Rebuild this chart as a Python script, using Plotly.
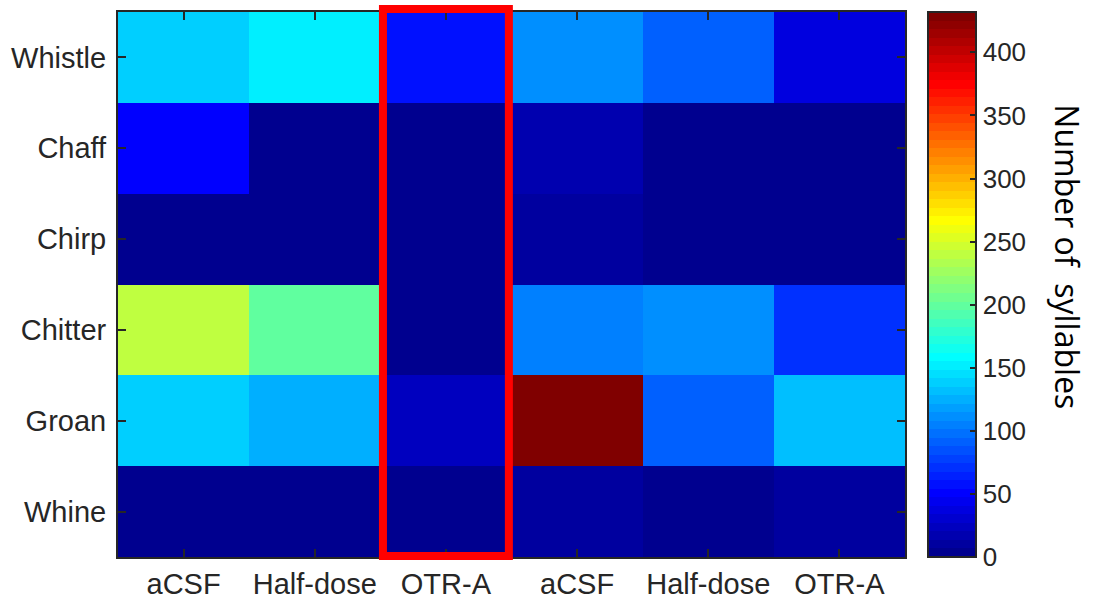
import numpy as np
import plotly.graph_objects as go

# Treatment groups (two cohorts of three) and syllable types
groups = ["aCSF", "Half-dose", "OTR-A", "aCSF", "Half-dose", "OTR-A"]
syllables = ["Whistle", "Chaff", "Chirp", "Chitter", "Groan", "Whine"]

# Number of syllables per type, one value per group column
whistle = [138, 152, 57, 111, 91, 37]
chaff = [51, 3, 3, 17, 3, 2]
chirp = [3, 2, 2, 10, 2, 2]
chitter = [240, 199, 3, 105, 111, 71]
groan = [138, 125, 24, 432, 91, 132]
whine = [3, 3, 2, 10, 3, 9]

cbar_ticks = [0, 50, 100, 150, 200, 250, 300, 350, 400]
cmin, cmax = 0, 432


def jet(m=64):
    """MATLAB-style jet colormap with m levels."""
    n = int(np.ceil(m / 4))
    u = np.concatenate([np.arange(1, n + 1) / n, np.ones(n - 1), np.arange(n, 0, -1) / n])
    g = int(np.ceil(n / 2)) - (1 if m % 4 == 1 else 0) + np.arange(1, len(u) + 1)
    r = g + n
    b = g - n
    J = np.zeros((m, 3))
    for idx, val in zip(g, u):
        if 1 <= idx <= m:
            J[idx - 1, 1] = val
    for idx, val in zip(r, u):
        if 1 <= idx <= m:
            J[idx - 1, 0] = val
    for idx, val in zip(b, u):
        if 1 <= idx <= m:
            J[idx - 1, 2] = val
    return J


# Banded colorscale (64 discrete levels)
J = jet(64)
colorscale = []
for i, (r, g, b) in enumerate(J):
    col = f"rgb({int(round(r * 255))},{int(round(g * 255))},{int(round(b * 255))})"
    colorscale.append([i / 64, col])
    colorscale.append([(i + 1) / 64, col])

z = [whistle, chaff, chirp, chitter, groan, whine]

fig = go.Figure()
fig.add_trace(go.Heatmap(
    z=z,
    x=list(range(len(groups))),
    y=list(range(len(syllables))),
    zmin=cmin, zmax=cmax,
    colorscale=colorscale,
    xgap=0, ygap=0,
    colorbar=dict(
        thickness=48,
        thicknessmode="pixels",
        len=1.0,
        lenmode="fraction",
        x=1.0295, xanchor="left", xpad=0,
        y=0.5, yanchor="middle", ypad=0,
        outlinewidth=2, outlinecolor="#262626",
        tickvals=cbar_ticks,
        ticktext=[str(t) for t in cbar_ticks],
        ticks="inside", ticklen=7, tickwidth=2, tickcolor="#262626",
        tickfont=dict(family="Liberation Sans, Arial, sans-serif", size=26, color="#262626"),
    ),
    hoverongaps=False,
))

axis_common = dict(
    showline=True, linewidth=2, linecolor="#262626",
    mirror="ticks", ticks="inside", ticklen=8, tickwidth=2, tickcolor="#262626",
    showgrid=False, zeroline=False, automargin=False,
    tickfont=dict(family="Liberation Sans, Arial, sans-serif", size=29, color="#262626"),
)

fig.update_xaxes(
    tickvals=list(range(len(groups))), ticktext=groups,
    range=[-0.5, len(groups) - 0.5], ticklabelstandoff=0, **axis_common,
)
fig.update_yaxes(
    tickvals=list(range(len(syllables))), ticktext=syllables,
    range=[len(syllables) - 0.5, -0.5], ticklabelstandoff=4, **axis_common,
)

# Highlight box around the first OTR-A column
col = groups.index("OTR-A")
ncol = len(groups)
fig.add_shape(
    type="rect", xref="x domain", yref="y domain",
    x0=(col + 0.02) / ncol, x1=(col + 0.98) / ncol,
    y0=0.002, y1=1.0055,
    line=dict(color="#FF0000", width=8),
    fillcolor="rgba(0,0,0,0)", layer="above",
)

# Colorbar title
fig.add_annotation(
    text="Number of&nbsp;&nbsp;syllables",
    xref="paper", yref="paper", x=1.207, y=0.55,
    xanchor="center", yanchor="middle",
    showarrow=False, textangle=90,
    font=dict(family="Open Sans, sans-serif", size=32, color="#000000"),
)

fig.update_layout(
    width=1093, height=600,
    margin=dict(l=118, r=188, t=12, b=43),
    paper_bgcolor="white", plot_bgcolor="white",
)

fig.write_html("out.html")
